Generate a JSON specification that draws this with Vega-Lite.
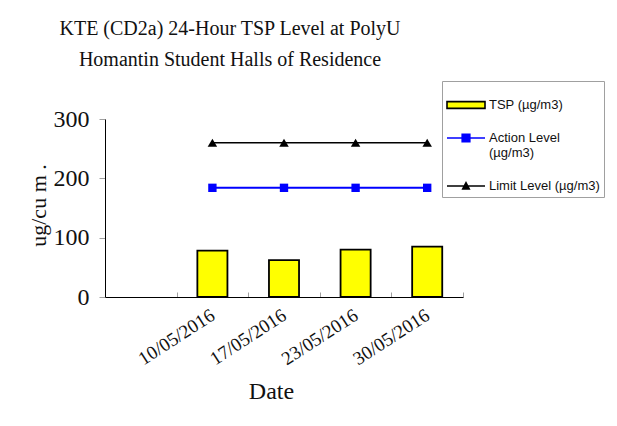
{
  "$schema": "https://vega.github.io/schema/vega-lite/v6.json",
  "width": 358,
  "height": 178,
  "autosize": {"type": "none"},
  "padding": {"left": 105, "top": 119, "right": 154, "bottom": 129},
  "background": "white",
  "title": {
    "text": ["KTE  (CD2a) 24-Hour TSP Level at PolyU", "Homantin Student Halls of Residence"],
    "font": "Liberation Serif",
    "fontSize": 20,
    "fontWeight": "normal",
    "lineHeight": 31,
    "anchor": "middle",
    "dx": -54,
    "offset": 11,
    "color": "#111111"
  },
  "config": {"view": {"stroke": null}, "axis": {"grid": false}},
  "data": {
    "values": [
      {"date": "10/05/2016", "series": "TSP (µg/m3)", "value": 78},
      {"date": "17/05/2016", "series": "TSP (µg/m3)", "value": 62},
      {"date": "23/05/2016", "series": "TSP (µg/m3)", "value": 80},
      {"date": "30/05/2016", "series": "TSP (µg/m3)", "value": 85},
      {"date": "10/05/2016", "series": "Action Level (µg/m3)", "value": 184},
      {"date": "17/05/2016", "series": "Action Level (µg/m3)", "value": 184},
      {"date": "23/05/2016", "series": "Action Level (µg/m3)", "value": 184},
      {"date": "30/05/2016", "series": "Action Level (µg/m3)", "value": 184},
      {"date": "10/05/2016", "series": "Limit Level (µg/m3)", "value": 260},
      {"date": "17/05/2016", "series": "Limit Level (µg/m3)", "value": 260},
      {"date": "23/05/2016", "series": "Limit Level (µg/m3)", "value": 260},
      {"date": "30/05/2016", "series": "Limit Level (µg/m3)", "value": 260}
    ]
  },
  "encoding": {
    "x": {
      "field": "date",
      "type": "nominal",
      "sort": null,
      "scale": {"domain": ["_", "10/05/2016", "17/05/2016", "23/05/2016", "30/05/2016"], "paddingInner": 0, "paddingOuter": 0},
      "axis": {
        "labelExpr": "datum.value == '_' ? '' : datum.value",
        "labelAngle": -33,
        "labelAlign": "right",
        "labelBaseline": "middle",
        "labelFont": "Liberation Serif",
        "labelFontSize": 19,
        "labelColor": "#111111",
        "labelPadding": 21,
        "labelOverlap": false,
        "labelBound": false,
        "tickBand": "extent",
        "tickSize": -5,
        "tickColor": "#a0a0a0",
        "domainColor": "#000000",
        "title": "Date",
        "titleFont": "Liberation Serif",
        "titleFontSize": 24,
        "titleFontWeight": "normal",
        "titleColor": "#111111",
        "titleX": 166,
        "titleY": 101,
        "titleBaseline": "alphabetic"
      }
    },
    "y": {
      "field": "value",
      "type": "quantitative",
      "scale": {"domain": [0, 300], "nice": false},
      "axis": {
        "values": [0, 100, 200, 300],
        "labelFont": "Liberation Serif",
        "labelFontSize": 24,
        "labelColor": "#111111",
        "labelPadding": 10,
        "tickSize": 6,
        "tickColor": "#a0a0a0",
        "domainColor": "#000000",
        "title": "ug/cu m .",
        "titleFont": "Liberation Serif",
        "titleFontSize": 22,
        "titleFontWeight": "normal",
        "titleColor": "#111111",
        "titleX": -67,
        "titleY": 86,
        "titleAngle": 270,
        "titleAlign": "center",
        "titleBaseline": "middle"
      }
    }
  },
  "layer": [
    {
      "transform": [{"filter": "datum.series == 'TSP (µg/m3)'"}],
      "mark": {"type": "bar", "width": {"band": 0.42}, "fill": "#ffff00", "stroke": "#000000", "strokeWidth": 1.8}
    },
    {
      "transform": [{"filter": "datum.series == 'Action Level (µg/m3)'"}],
      "mark": {"type": "line", "color": "#0000ff", "strokeWidth": 2}
    },
    {
      "transform": [{"filter": "datum.series == 'Limit Level (µg/m3)'"}],
      "mark": {"type": "line", "color": "#000000", "strokeWidth": 1.5}
    },
    {
      "transform": [{"filter": "datum.series == 'Action Level (µg/m3)'"}],
      "mark": {"type": "point", "shape": "square", "filled": true, "color": "#0000ff", "size": 70, "opacity": 1}
    },
    {
      "transform": [{"filter": "datum.series == 'Limit Level (µg/m3)'"}],
      "mark": {"type": "point", "shape": "triangle-up", "filled": true, "color": "#000000", "size": 90, "opacity": 1}
    },
    {
      "mark": {"type": "point", "opacity": 0},
      "encoding": {
        "fill": {
          "field": "series",
          "type": "nominal",
          "scale": {
            "domain": ["TSP (µg/m3)", "Action Level (µg/m3)", "Limit Level (µg/m3)"],
            "range": ["#ffff00", "#0000ff", "#000000"]
          },
          "legend": null
        },
        "stroke": {
          "field": "series",
          "type": "nominal",
          "scale": {
            "domain": ["TSP (µg/m3)", "Action Level (µg/m3)", "Limit Level (µg/m3)"],
            "range": ["#000000", "#0000ff", "#000000"]
          },
          "legend": null
        },
        "shape": {
          "field": "series",
          "type": "nominal",
          "scale": {
            "domain": ["TSP (µg/m3)", "Action Level (µg/m3)", "Limit Level (µg/m3)"],
            "range": [
              "M-1,-0.18H1V0.18H-1Z",
              "M-1,0H1M-0.2,-0.2H0.2V0.2H-0.2Z",
              "M-1,0H1M-0.17,0.15L0,-0.17L0.17,0.15Z"
            ]
          },
          "legend": {
            "title": null,
            "orient": "none",
            "legendX": 337,
            "legendY": -38,
            "padding": 4,
            "strokeColor": "#a0a0a0",
            "fillColor": "#ffffff",
            "symbolSize": 1444,
            "symbolStrokeWidth": 1.6,
            "symbolFillColor": {"expr": "datum.value == 'TSP (µg/m3)' ? '#ffff00' : datum.value == 'Action Level (µg/m3)' ? '#0000ff' : '#000000'"},
            "symbolStrokeColor": {"expr": "datum.value == 'Action Level (µg/m3)' ? '#0000ff' : '#000000'"},
            "labelFont": "Liberation Sans",
            "labelFontSize": 13,
            "labelColor": "#111111",
            "labelOffset": 3,
            "labelLimit": 300,
            "rowPadding": 6,
            "labelExpr": "datum.label == 'Action Level (µg/m3)' ? ['Action Level', '(µg/m3)'] : datum.label",
            "encode": {
              "symbols": {
                "update": {
                  "fill": {"signal": "datum.value == 'TSP (µg/m3)' ? '#ffff00' : datum.value == 'Action Level (µg/m3)' ? '#0000ff' : '#000000'"},
                  "stroke": {"signal": "datum.value == 'Action Level (µg/m3)' ? '#0000ff' : '#000000'"},
                  "opacity": {"value": 1},
                  "fillOpacity": {"value": 1},
                  "strokeOpacity": {"value": 1}
                }
              }
            }
          }
        }
      }
    }
  ]
}
